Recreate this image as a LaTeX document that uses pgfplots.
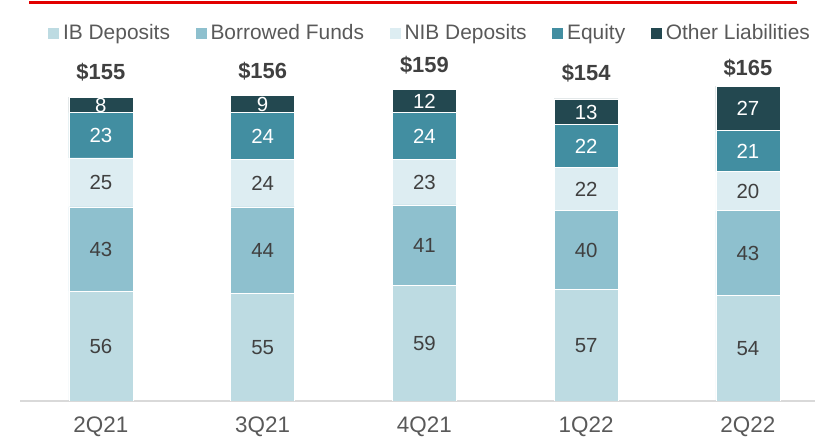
\documentclass[border=0pt]{standalone}
\usepackage{pgfplots}
\pgfplotsset{compat=1.18}
\usepackage{fontspec}
\setmainfont{Liberation Sans}
\definecolor{cIB}{RGB}{189,219,226}
\definecolor{cBF}{RGB}{142,192,206}
\definecolor{cNIB}{RGB}{221,237,242}
\definecolor{cEQ}{RGB}{66,142,161}
\definecolor{cOL}{RGB}{35,72,80}
\definecolor{txt}{RGB}{64,64,64}
\definecolor{lgtxt}{RGB}{89,89,89}
\definecolor{axgray}{RGB}{217,217,217}
\definecolor{topred}{RGB}{226,0,0}
\begin{document}
\begin{tikzpicture}[x=1bp,y=1bp]
\path[use as bounding box] (0,0) rectangle (815,441);
\draw[topred, line width=3bp] (29,438.5) -- (797,438.5);
\begin{axis}[
  at={(20bp,40bp)}, anchor=south west,
  scale only axis, width=795bp, height=392.2bp,
  xmin=-0.5, xmax=4.415, ymin=0, ymax=200,
  ybar stacked, bar width=64bp,
  axis y line=none,
  axis x line*=bottom,
  x axis line style={axgray, line width=1.5bp, -},
  xtick={0,1,2,3,4},
  xticklabels={2Q21,3Q21,4Q21,1Q22,2Q22},
  major tick length=0pt,
  xticklabel style={font=\fontsize{22.5}{26}\selectfont, text=lgtxt, yshift=-15bp, inner ysep=1bp},
  point meta=explicit symbolic,
  nodes near coords={\raisebox{-7.3bp}[0pt][0pt]{\pgfplotspointmeta}},
  every node near coord/.append style={font=\fontsize{20.5}{24}\selectfont, anchor=center, inner sep=0pt},
  legend image code/.code={\fill[#1, draw=none] (0bp,-5.5bp) rectangle (11bp,5.5bp);},
  legend columns=5,
  legend cell align=left,
  legend style={at={(0.517,0.938)}, anchor=center, draw=none, fill=none,
     font=\fontsize{21}{24}\selectfont, text=lgtxt,
     nodes={inner xsep=4bp, inner ysep=0pt},
     /tikz/every even column/.append style={column sep=21.5bp}},
]
\addplot[fill=cIB, draw=white, line width=0.6bp, every node near coord/.append style={text=txt}]
  coordinates {(0,56)[56] (1,55)[55] (2,59)[59] (3,57)[57] (4,54)[54]};
\addplot[fill=cBF, draw=white, line width=0.6bp, every node near coord/.append style={text=txt}]
  coordinates {(0,43)[43] (1,44)[44] (2,41)[41] (3,40)[40] (4,43)[43]};
\addplot[fill=cNIB, draw=white, line width=0.6bp, every node near coord/.append style={text=txt}]
  coordinates {(0,25)[25] (1,24)[24] (2,23)[23] (3,22)[22] (4,20)[20]};
\addplot[fill=cEQ, draw=white, line width=0.6bp, every node near coord/.append style={text=white}]
  coordinates {(0,23)[23] (1,24)[24] (2,24)[24] (3,22)[22] (4,21)[21]};
\addplot[fill=cOL, draw=white, line width=0.6bp, every node near coord/.append style={text=white}]
  coordinates {(0,8)[8] (1,9)[9] (2,12)[12] (3,13)[13] (4,22.5)[27]};
\legend{IB Deposits, Borrowed Funds, NIB Deposits, Equity, Other Liabilities}
\node[anchor=base, text=txt, font=\fontsize{22}{26}\selectfont\bfseries] at (axis cs:0,163.7) {\$155};
\node[anchor=base, text=txt, font=\fontsize{22}{26}\selectfont\bfseries] at (axis cs:1,164.7) {\$156};
\node[anchor=base, text=txt, font=\fontsize{22}{26}\selectfont\bfseries] at (axis cs:2,167.3) {\$159};
\node[anchor=base, text=txt, font=\fontsize{22}{26}\selectfont\bfseries] at (axis cs:3,163.2) {\$154};
\node[anchor=base, text=txt, font=\fontsize{22}{26}\selectfont\bfseries] at (axis cs:4,166.2) {\$165};
\end{axis}
\end{tikzpicture}
\end{document}
